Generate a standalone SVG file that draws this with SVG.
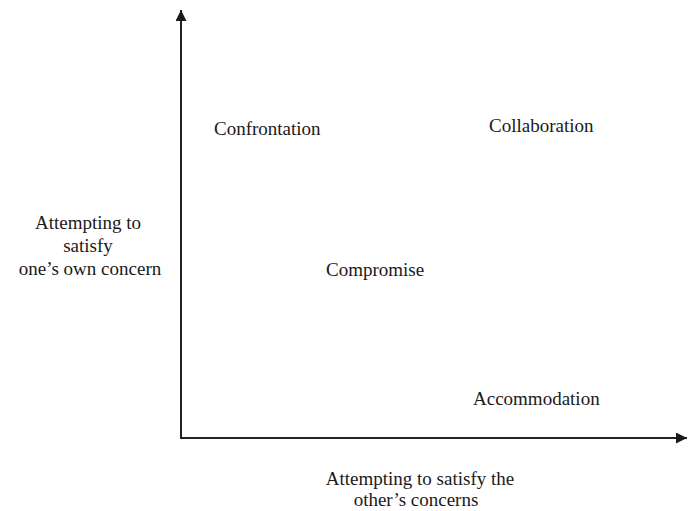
<svg xmlns="http://www.w3.org/2000/svg" width="691" height="511" viewBox="0 0 691 511">
  <style>
    .lbl { font-family: "Liberation Serif", "Times New Roman", serif; font-size: 19px; fill: #1a1a1a; }
    .axis { stroke: #222; stroke-width: 2; fill: none; }
  </style>
  <defs>
    <marker id="arrow" viewBox="0 0 10 10" refX="10" refY="5" markerWidth="11" markerHeight="11" markerUnits="userSpaceOnUse" orient="auto">
      <path d="M0,0 L10,5 L0,10 Z" fill="#1a1a1a"/>
    </marker>
  </defs>
  <rect width="691" height="511" fill="#ffffff"/>

  <!-- axes -->
  <g id="connectors">
    <path class="axis" d="M181,439 L181,10" marker-end="url(#arrow)"/>
    <path class="axis" d="M181,438 L687,438" marker-end="url(#arrow)"/>
  </g>

  <!-- quadrant labels -->
  <g id="confrontation"><text class="lbl" x="214" y="135">Confrontation</text></g>
  <g id="collaboration"><text class="lbl" x="489" y="132">Collaboration</text></g>
  <g id="compromise"><text class="lbl" x="326" y="276">Compromise</text></g>
  <g id="accommodation"><text class="lbl" x="473" y="405">Accommodation</text></g>

  <!-- axis titles -->
  <g id="y-title">
    <text class="lbl" text-anchor="middle" x="88" y="229">Attempting to</text>
    <text class="lbl" text-anchor="middle" x="88" y="252">satisfy</text>
    <text class="lbl" text-anchor="middle" x="90" y="275">one’s own concern</text>
  </g>
  <g id="x-title">
    <text class="lbl" text-anchor="middle" x="420" y="485">Attempting to satisfy the</text>
    <text class="lbl" text-anchor="middle" x="416" y="506">other’s concerns</text>
  </g>
</svg>
